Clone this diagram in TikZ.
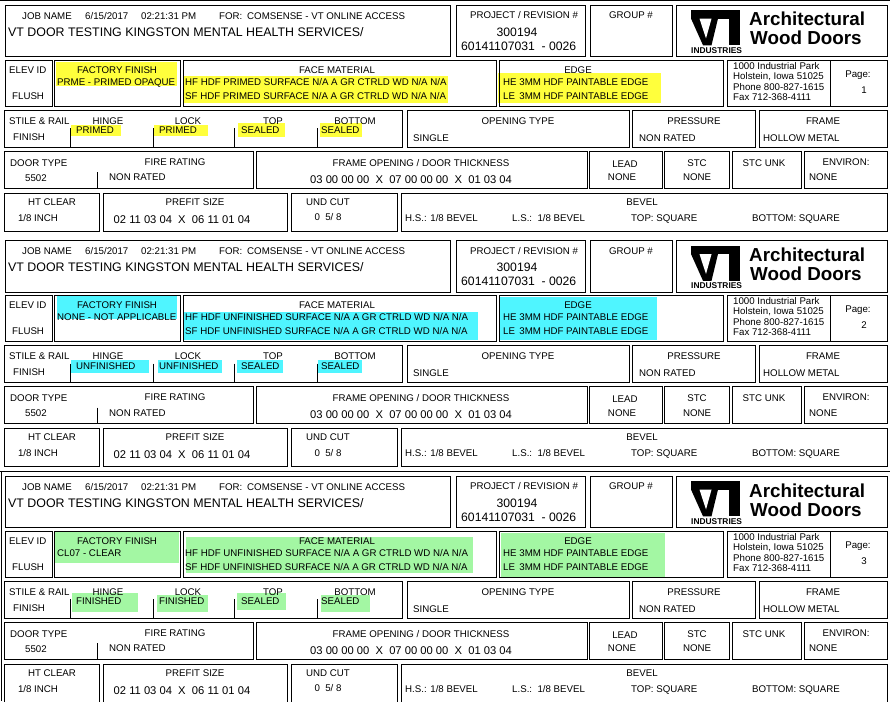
\documentclass[tikz,border=0pt]{standalone}
\usepackage{fontspec}
\setmainfont{Liberation Sans}
\definecolor{hlyellow}{HTML}{FFFF3C}
\definecolor{hlcyan}{HTML}{4FF5FF}
\definecolor{hlgreen}{HTML}{A3F7A3}
\tikzset{
  cell/.style={draw=black, line width=0.9pt},
  lbl/.style={inner sep=0pt, font=\fontsize{9.7}{11}\selectfont, text height=6.9pt, text depth=0pt},
  big/.style={inner sep=0pt, font=\fontsize{12.4}{14}\selectfont, text height=8.9pt, text depth=0pt},
  mid/.style={inner sep=0pt, font=\fontsize{12.2}{14}\selectfont, text height=8.7pt, text depth=0pt},
  num/.style={inner sep=0pt, font=\fontsize{11.2}{13}\selectfont, text height=8pt, text depth=0pt},
  brand/.style={inner sep=0pt, font=\bfseries\fontsize{18.8}{20}\selectfont},
}

\begin{document}
\begin{tikzpicture}[x=1pt,y=-1pt]
\useasboundingbox (0,0) rectangle (890,701);

% highlights, page 1
\fill[hlyellow] (56,62) rectangle (177,86);
\fill[hlyellow] (184,76) rectangle (448,103);
\fill[hlyellow] (498,73) rectangle (661,103);
\fill[hlyellow] (71,125) rectangle (121,135.5);
\fill[hlyellow] (154,125) rectangle (208,135.5);
\fill[hlyellow] (238,123) rectangle (285,136.5);
\fill[hlyellow] (320,123) rectangle (362,136.5);
% highlights, page 2
\fill[hlcyan] (57,295.5) rectangle (177,318.5);
\fill[hlcyan] (184,311.5) rectangle (478,339.5);
\fill[hlcyan] (500,296.5) rectangle (657,339.5);
\fill[hlcyan] (71,360) rectangle (149,372.5);
\fill[hlcyan] (158,360) rectangle (222,372.5);
\fill[hlcyan] (237,360) rectangle (283,372.5);
\fill[hlcyan] (318,360) rectangle (362,372.5);
% highlights, page 3
\fill[hlgreen] (55,532) rectangle (179,563);
\fill[hlgreen] (186,537) rectangle (473,573);
\fill[hlgreen] (501,533) rectangle (665,577);
\fill[hlgreen] (72,593) rectangle (138,612);
\fill[hlgreen] (157,595) rectangle (208,612);
\fill[hlgreen] (237,593) rectangle (286,610);
\fill[hlgreen] (321,595) rectangle (370,612);

% page rules
\draw[cell] (0,0.7)--(890,0.7);
\draw[cell] (0,471)--(890,471);
\draw[cell] (1,471)--(1,701);

\foreach \blk/\off/\ffin/\face/\hl in {1/0/{PRME - PRIMED OPAQUE}/PRIMED/PRIMED,
    2/235.5/{NONE - NOT APPLICABLE}/UNFINISHED/UNFINISHED,
    3/471/{CL07 - CLEAR}/UNFINISHED/FINISHED}{
\begin{scope}[shift={(0,\off)}]
% boxes
\draw[cell] (5,5) rectangle (450,56.5) (456,5) rectangle (585,56.5)
  (590,5) rectangle (672,56.5) (676,5) rectangle (887,56.5);
\draw[cell] (5,60) rectangle (52,106) (54,60) rectangle (180,106)
  (183,60) rectangle (496,106) (499,60) rectangle (723,106)
  (727,60) rectangle (887,106) (830,60)--(830,106);
\draw[cell] (4,110) rectangle (402,147) (407,110) rectangle (629,147)
  (632,110) rectangle (755,147) (759,110) rectangle (887,147);
\draw[cell] (70.3,128)--(70.3,147) (153.3,128)--(153.3,147)
  (234.7,128)--(234.7,147) (317.3,128)--(317.3,147);
\draw[cell] (4,151) rectangle (253,188) (256,151) rectangle (587,188)
  (589,151) rectangle (662,188) (664,151) rectangle (729,188)
  (732,151) rectangle (801,188) (804,151) rectangle (887,188)
  (97.3,172)--(97.3,188);
\draw[cell] (4,193) rectangle (99,231) (103,193) rectangle (287,231)
  (291,193) rectangle (397,231) (401,193) rectangle (887,231);

% header
\node[lbl, anchor=west] (job\blk) at (22,15.7) {JOB NAME};
\node[lbl, anchor=west] (date\blk) at (85,15.7) {6/15/2017};
\node[lbl, anchor=west] (time\blk) at (141,15.7) {02:21:31 PM};
\node[lbl, anchor=west] (for\blk) at (219,15.7) {FOR:};
\node[lbl, anchor=west] (client\blk) at (247,15.7) {COMSENSE - VT ONLINE ACCESS};
\node[big, anchor=west] (title\blk) at (8,31.7) {VT DOOR TESTING KINGSTON MENTAL HEALTH SERVICES/};
\node[lbl] (projhead\blk) at (524,15.5) {PROJECT / REVISION \#};
\node[mid] (projno\blk) at (517,32) {300194};
\node[mid, anchor=west] (revno\blk) at (461,46) {60141107031\ \ - 0026};
\node[lbl] (group\blk) at (631,15.5) {GROUP \#};

% logo
\fill (691,10) rectangle (740,18.7);
\fill (691,18.5)--(718,18.5)--(711.5,45.3)--(703,45.3)--cycle;
\fill[white] (699.5,18.7)--(711.5,18.7)--(706,38.5)--cycle;
\fill (729,18.5) rectangle (740,45.3);
\node[inner sep=0pt, font=\bfseries\fontsize{8.4}{9}\selectfont, anchor=base west] (ind\blk) at (691,53) {INDUSTRIES};
\node[brand, anchor=base west] (arch\blk) at (749,26) {Architectural};
\node[brand, anchor=base west] (wood\blk) at (750,45) {Wood Doors};

% finish row
\node[lbl, anchor=west] (elev\blk) at (9,70) {ELEV ID};
\node[lbl, anchor=west] (flush\blk) at (12,95.7) {FLUSH};
\node[lbl] (ffhead\blk) at (117,70) {FACTORY FINISH};
\node[lbl, anchor=west] (ffval\blk) at (57,81.7) {\ffin};
\node[lbl] (fmhead\blk) at (337,70) {FACE MATERIAL};
\node[lbl, anchor=west] (hf\blk) at (185,81.7) {HF HDF \face\ SURFACE N/A A GR CTRLD WD N/A N/A};
\node[lbl, anchor=west] (sf\blk) at (185,95.7) {SF HDF \face\ SURFACE N/A A GR CTRLD WD N/A N/A};
\node[lbl] (edgehead\blk) at (578,70) {EDGE};
\node[lbl, anchor=west] (he\blk) at (503,81.7) {HE 3MM HDF PAINTABLE EDGE};
\node[lbl, anchor=west] (le\blk) at (503,95.7) {LE\hspace{1.6pt} 3MM HDF PAINTABLE EDGE};
\node[lbl, anchor=west] (addr\blk) at (733,65.7) {1000 Industrial Park};
\node[lbl, anchor=west] (city\blk) at (733,76) {Holstein, Iowa 51025};
\node[lbl, anchor=west] (phone\blk) at (733,86.7) {Phone 800-827-1615};
\node[lbl, anchor=west] (fax\blk) at (733,96.7) {Fax 712-368-4111};
\node[lbl] (pagehead\blk) at (858,74) {Page:};
\node[lbl] (pageno\blk) at (864,90) {\blk};

% stile and rail row
\node[lbl, anchor=west] (stile\blk) at (9,120.7) {STILE \& RAIL};
\node[lbl, anchor=west] (finish\blk) at (13,136.7) {FINISH};
\node[lbl] (hinge\blk) at (108,120.7) {HINGE};
\node[lbl] (lock\blk) at (188,120.7) {LOCK};
\node[lbl] (top\blk) at (273,120.7) {TOP};
\node[lbl] (bottom\blk) at (355,120.7) {BOTTOM};
\node[lbl, anchor=west] (hingeval\blk) at (76,130.5) {\hl};
\node[lbl, anchor=west] (lockval\blk) at (159,130.5) {\hl};
\node[lbl, anchor=west] (topval\blk) at (241,130.5) {SEALED};
\node[lbl, anchor=west] (bottomval\blk) at (321,130.5) {SEALED};
\node[lbl] (openhead\blk) at (518,120.7) {OPENING TYPE};
\node[lbl, anchor=west] (openval\blk) at (413,137.7) {SINGLE};
\node[lbl] (presshead\blk) at (694,120.7) {PRESSURE};
\node[lbl, anchor=west] (pressval\blk) at (639,137.7) {NON RATED};
\node[lbl] (framehead\blk) at (823,120.7) {FRAME};
\node[lbl, anchor=west] (frameval\blk) at (763,137.7) {HOLLOW METAL};

% door type row
\node[lbl, anchor=west] (dtype\blk) at (10,162.7) {DOOR TYPE};
\node[lbl, anchor=west] (dtypeval\blk) at (25,177.7) {5502};
\node[lbl] (firehead\blk) at (175,161.7) {FIRE RATING};
\node[lbl, anchor=west] (fireval\blk) at (109,177.3) {NON RATED};
\node[lbl] (ophead\blk) at (421,162.7) {FRAME OPENING / DOOR THICKNESS};
\node[num, anchor=west] (opval\blk) at (310,179) {03 00 00 00\ \ X\ \ 07 00 00 00\ \ X\ \ 01 03 04};
\node[lbl] (leadhead\blk) at (625,163.7) {LEAD};
\node[lbl] (leadval\blk) at (622,177.3) {NONE};
\node[lbl] (stchead\blk) at (697,162.7) {STC};
\node[lbl] (stcval\blk) at (697,177.3) {NONE};
\node[lbl] (stcunk\blk) at (764,162.7) {STC UNK};
\node[lbl] (envhead\blk) at (846,161.7) {ENVIRON:};
\node[lbl, anchor=west] (envval\blk) at (809,177.3) {NONE};

% clearance row
\node[lbl] (hthead\blk) at (52,201.7) {HT CLEAR};
\node[lbl] (htval\blk) at (38,217.7) {1/8 INCH};
\node[lbl] (prehead\blk) at (195,201.7) {PREFIT SIZE};
\node[num] (preval\blk) at (182,219) {02 11 03 04\ \ X\ \ 06 11 01 04};
\node[lbl] (undhead\blk) at (328,201.7) {UND CUT};
\node[lbl] (undval\blk) at (328,217.3) {0\ \ 5/ 8};
\node[lbl] (bevhead\blk) at (642,201.7) {BEVEL};
\node[lbl, anchor=west] (hs\blk) at (405,217.7) {H.S.: 1/8 BEVEL};
\node[lbl, anchor=west] (ls\blk) at (512,218) {L.S.:\ \ 1/8 BEVEL};
\node[lbl, anchor=west] (bevtop\blk) at (631,218) {TOP: SQUARE};
\node[lbl, anchor=west] (bevbot\blk) at (752,218) {BOTTOM: SQUARE};
\end{scope}
}
\end{tikzpicture}
\end{document}
